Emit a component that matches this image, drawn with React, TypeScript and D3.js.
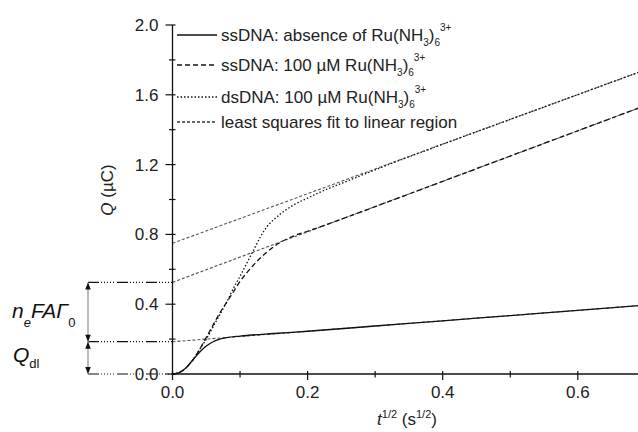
import React from "react";
import * as d3 from "d3";

// Charge vs. square root of time (chronocoulometry)
const tAbsence = [0, 0.01, 0.02, 0.03, 0.04, 0.05, 0.06, 0.07, 0.08, 0.1, 0.15, 0.2, 0.3, 0.4, 0.5, 0.6, 0.69];
const qAbsence = [0, 0.008, 0.035, 0.08, 0.125, 0.16, 0.185, 0.2, 0.208, 0.217, 0.232, 0.245, 0.275, 0.305, 0.335, 0.365, 0.392];

const tSsRu = [0, 0.01, 0.02, 0.03, 0.04, 0.05, 0.06, 0.07, 0.08, 0.09, 0.1, 0.11, 0.12, 0.13, 0.14, 0.15, 0.16, 0.18, 0.2, 0.25, 0.3, 0.4, 0.5, 0.6, 0.69];
const qSsRu = [0, 0.008, 0.035, 0.08, 0.14, 0.21, 0.28, 0.35, 0.41, 0.47, 0.53, 0.58, 0.625, 0.665, 0.7, 0.73, 0.755, 0.792, 0.818, 0.887, 0.959, 1.104, 1.249, 1.394, 1.524];

const tDsRu = [0, 0.01, 0.02, 0.03, 0.04, 0.05, 0.06, 0.07, 0.08, 0.09, 0.1, 0.11, 0.12, 0.13, 0.14, 0.15, 0.16, 0.17, 0.18, 0.2, 0.22, 0.25, 0.3, 0.4, 0.5, 0.6, 0.69];
const qDsRu = [0, 0.008, 0.035, 0.08, 0.14, 0.2, 0.27, 0.34, 0.41, 0.49, 0.56, 0.635, 0.71, 0.785, 0.845, 0.885, 0.918, 0.946, 0.97, 1.008, 1.045, 1.092, 1.17, 1.317, 1.459, 1.601, 1.729];

// Linear fits: Q at t = 0 and at the right end of the axis
const fitNames = ["absence", "ssRu", "dsRu"];
const fitStartQ = [0.185, 0.525, 0.749];
const fitEndQ = [0.392, 1.524, 1.729];

const xMajorTicks = [0, 0.2, 0.4, 0.6];
const xMinorTicks = [0.1, 0.3, 0.5];
const yMajorTicks = [0, 0.4, 0.8, 1.2, 1.6, 2.0];
const yMinorTicks = [0.2, 0.6, 1.0, 1.4, 1.8];

const X_MAX = 0.69;
const FONT = "'Liberation Sans', Arial, Helvetica, sans-serif";

export default function App() {
  const width = 638;
  const height = 432;
  const x = d3.scaleLinear().domain([0, X_MAX]).range([172.5, 172.5 + X_MAX * 675.5]);
  const y = d3.scaleLinear().domain([0, 2]).range([374, 25]);

  const line = d3
    .line<[number, number]>()
    .x((d) => x(d[0]))
    .y((d) => y(d[1]))
    .curve(d3.curveMonotoneX);

  const zip = (ts: number[], qs: number[]) => ts.map((t, i) => [t, qs[i]] as [number, number]);

  const series = [
    { pts: zip(tAbsence, qAbsence), dash: undefined as string | undefined },
    { pts: zip(tSsRu, qSsRu), dash: "5,3" },
    { pts: zip(tDsRu, qDsRu), dash: "1.5,2" },
  ];

  const fits = fitNames.map((n, i) => ({
    key: n,
    pts: [
      [0, fitStartQ[i]],
      [X_MAX, fitEndQ[i]],
    ] as [number, number][],
  }));

  const x0 = x(0);
  const y0 = y(0);

  // Guide levels to the left of the axis
  const guideLevels = [fitStartQ[1], fitStartQ[0], 0];
  const arrowX = 88;
  const guideDash = "11,2,1,2,1,2,1,2,1,2,1,3";

  const arrowUp = (tipY: number) => `M${arrowX},${tipY} L${arrowX - 2.8},${tipY + 7} L${arrowX + 2.8},${tipY + 7} Z`;
  const arrowDown = (tipY: number) => `M${arrowX},${tipY} L${arrowX - 2.8},${tipY - 7} L${arrowX + 2.8},${tipY - 7} Z`;

  const legendRows = [
    { y: 35, dash: undefined as string | undefined, stroke: "#111", head: "ssDNA: absence of Ru(NH", chem: true },
    { y: 65, dash: "5,3", stroke: "#111", head: "ssDNA: 100 \u00b5M Ru(NH", chem: true },
    { y: 97, dash: "1.5,2", stroke: "#111", head: "dsDNA: 100 \u00b5M Ru(NH", chem: true },
    { y: 122, dash: "3,2", stroke: "#333", head: "least squares fit to linear region", chem: false },
  ];

  return (
    <svg width={width} height={height} style={{ display: "block", position: "absolute", left: 0, top: 0 }} fontFamily={FONT}>
      <rect width={width} height={height} fill="#fff" />

      {/* fit lines */}
      {fits.map((f) => (
        <path key={f.key} d={line(f.pts) || ""} fill="none" stroke="#555" strokeWidth={1.1} strokeDasharray="3,2" />
      ))}

      {/* measured curves */}
      {series.map((s, i) => (
        <path key={i} d={line(s.pts) || ""} fill="none" stroke="#111" strokeWidth={1.3} strokeDasharray={s.dash} />
      ))}

      {/* guide lines */}
      {guideLevels.map((q, i) => (
        <line key={i} x1={arrowX} x2={x0} y1={y(q)} y2={y(q)} stroke="#111" strokeWidth={1.2} strokeDasharray={guideDash} />
      ))}
      <line x1={arrowX} x2={arrowX} y1={y(guideLevels[0])} y2={y0} stroke="#aaa" strokeWidth={1.6} />
      <path d={arrowUp(y(guideLevels[0]))} fill="#111" />
      <path d={arrowDown(y(guideLevels[1]))} fill="#111" />
      <path d={arrowUp(y(guideLevels[1]))} fill="#111" />
      <path d={arrowDown(y0)} fill="#111" />

      <text x={12} y={318} fontSize={21} fontStyle="italic" fill="#111">
        n
        <tspan fontSize={13} dy={9}>e</tspan>
        <tspan dy={-9}>FA</tspan>
        <tspan>{"\u0393"}</tspan>
        <tspan fontSize={13} fontStyle="normal" dy={9}>0</tspan>
      </text>
      <text x={13} y={362} fontSize={21} fontStyle="italic" fill="#111">
        Q
        <tspan fontSize={13} fontStyle="normal" dy={6}>dl</tspan>
      </text>

      {/* axes */}
      <line x1={x0} x2={x0} y1={y(2)} y2={y0 + 1} stroke="#111" strokeWidth={1.3} />
      <line x1={x0} x2={x(X_MAX)} y1={y0} y2={y0} stroke="#111" strokeWidth={1.3} />
      {yMajorTicks.map((v) => (
        <g key={"ym" + v}>
          <line x1={x0 - 7} x2={x0 + 3} y1={y(v)} y2={y(v)} stroke="#111" strokeWidth={1.2} />
          <text x={x0 - 14} y={y(v) + 6} fontSize={17} textAnchor="end" fill="#222">
            {v.toFixed(1)}
          </text>
        </g>
      ))}
      {yMinorTicks.map((v) => (
        <line key={"yn" + v} x1={x0 - 3.5} x2={x0 + 3} y1={y(v)} y2={y(v)} stroke="#111" strokeWidth={1.2} />
      ))}
      {xMajorTicks.map((v) => (
        <g key={"xm" + v}>
          <line x1={x(v)} x2={x(v)} y1={y0 - 3} y2={y0 + 6} stroke="#111" strokeWidth={1.2} />
          <text x={x(v)} y={398} fontSize={17} textAnchor="middle" fill="#222">
            {v.toFixed(1)}
          </text>
        </g>
      ))}
      {xMinorTicks.map((v) => (
        <line key={"xn" + v} x1={x(v)} x2={x(v)} y1={y0 - 3} y2={y0 + 3.5} stroke="#111" strokeWidth={1.2} />
      ))}

      {/* axis titles */}
      <text x={407} y={425} fontSize={17} textAnchor="middle" fill="#222">
        <tspan fontStyle="italic">t</tspan>
        <tspan fontSize={11} dy={-7}>1/2</tspan>
        <tspan dy={7}> (s</tspan>
        <tspan fontSize={11} dy={-7}>1/2</tspan>
        <tspan dy={7}>)</tspan>
      </text>
      <text transform="translate(113,190) rotate(-90)" fontSize={17} textAnchor="middle" fill="#222">
        <tspan fontStyle="italic">Q</tspan> ({"\u00b5"}C)
      </text>

      {/* legend */}
      {legendRows.map((r, i) => (
        <g key={i}>
          <line x1={177} x2={217} y1={r.y} y2={r.y} stroke={r.stroke} strokeWidth={1.3} strokeDasharray={r.dash} />
          <text x={221} y={r.y + 6} fontSize={17} fill="#222">
            {r.head}
            {r.chem && (
              <>
                <tspan fontSize={10} dy={5}>3</tspan>
                <tspan dy={-5}>)</tspan>
                <tspan fontSize={10} dy={5}>6</tspan>
                <tspan fontSize={10} dy={-15}>3+</tspan>
              </>
            )}
          </text>
        </g>
      ))}
    </svg>
  );
}
